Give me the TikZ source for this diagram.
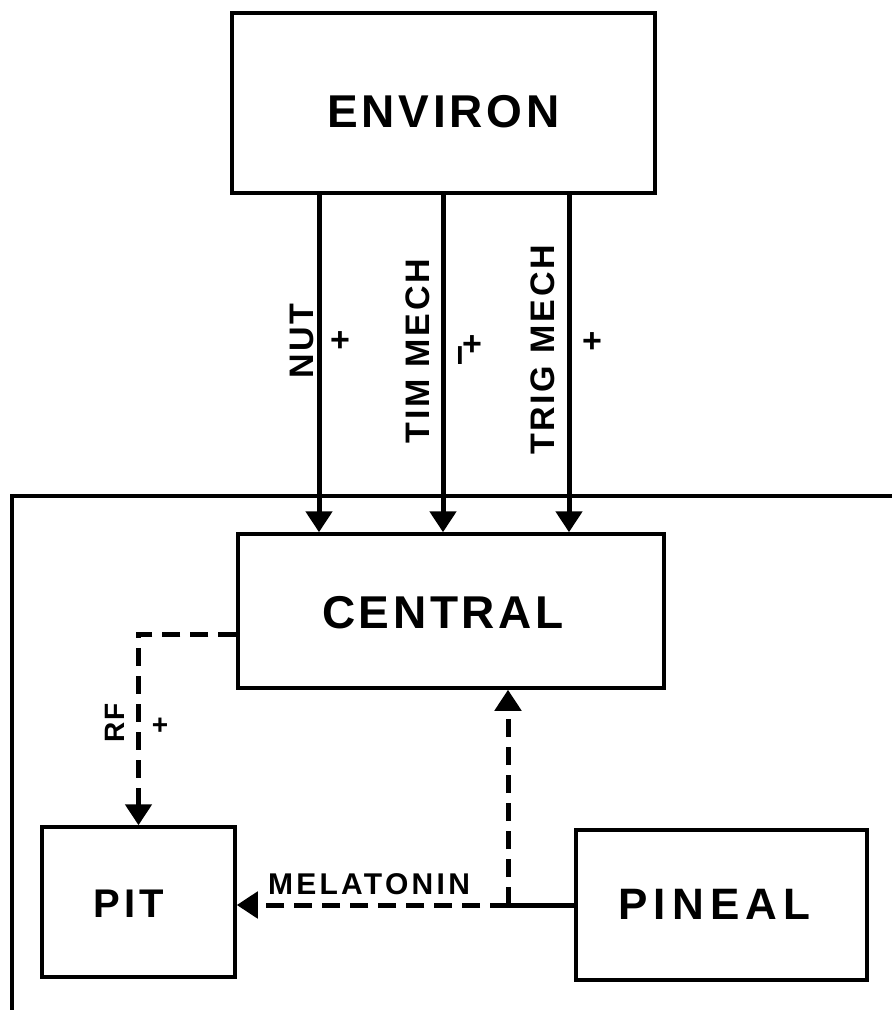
\documentclass[tikz,border=0pt]{standalone}
\usepackage{fontspec}
\setmainfont{Liberation Sans}
\newfontfamily\bigsp[LetterSpace=8]{Liberation Sans}
\newfontfamily\pinsp[LetterSpace=14]{Liberation Sans}
\newfontfamily\pitsp[LetterSpace=10]{Liberation Sans}
\newfontfamily\smsp[LetterSpace=8]{Liberation Sans}
\newfontfamily\melsp[LetterSpace=11]{Liberation Sans}
\usetikzlibrary{arrows.meta}
\begin{document}
\begin{tikzpicture}[x=1pt,y=-1pt,
  box/.style={draw, line width=3.5pt, rectangle, inner sep=0pt},
  bigtxt/.style={font=\bigsp\bfseries\fontsize{46}{50}\selectfont},
  armlbl/.style={font=\smsp\bfseries\fontsize{34}{38}\selectfont, rotate=90, inner sep=0pt},
  plustxt/.style={font=\bfseries\fontsize{34}{38}\selectfont, inner sep=0pt},
  flow/.style={line width=5pt, -{Triangle[length=21pt,width=26pt]}},
  dflow/.style={flow, dash pattern=on 18pt off 10pt}
]
\useasboundingbox (0,0) rectangle (892,1010);
\fill[white] (0,0) rectangle (892,1010);

% outer frame
\draw[line width=4pt] (892,496) -- (12,496) -- (12,1010);

% boxes
\node[box, bigtxt, minimum width=423pt, minimum height=180pt] (env) at (443.5,103)
  {\raisebox{-8pt}[\height][0pt]{ENVIRON}};
\node[box, bigtxt, minimum width=426pt, minimum height=154pt] (central) at (451,611)
  {\kern-16pt\raisebox{-1.5pt}[\height][0pt]{CENTRAL}};
\node[box, font=\pitsp\bfseries\fontsize{40}{44}\selectfont, minimum width=193pt, minimum height=150pt] (pit) at (138.5,902)
  {\kern-20pt\raisebox{-2pt}[\height][0pt]{PIT}};
\node[box, font=\pinsp\bfseries\fontsize{44}{48}\selectfont, minimum width=291pt, minimum height=150pt] (pineal) at (721.5,905)
  {\kern-14pt\raisebox{1pt}[\height][0pt]{PINEAL}};

% arrow columns
\coordinate (xn) at (319,0);
\coordinate (xt) at (443,0);
\coordinate (xg) at (569,0);
\draw[flow] (env.south -| xn) -- (central.north -| xn);
\draw[flow] (env.south -| xt) -- (central.north -| xt);
\draw[flow] (env.south -| xg) -- (central.north -| xg);

\node[armlbl] (nut) at (302,341) {NUT};
\node[plustxt] (p1) at (340,342) {+};
\node[armlbl] (tim) at (418,351) {TIM MECH};
\node[font=\bfseries\fontsize{26}{26}\selectfont, inner sep=0pt] (p2i) at (460,356) {I};
\node[plustxt] (p2) at (472,346) {+};
\node[armlbl] (trig) at (543,350) {TRIG MECH};
\node[plustxt] (p3) at (592,343) {+};

% RF
\coordinate (rfa) at ([yshift=-23pt]central.west);
\draw[dflow] (rfa) -| (pit.north);
\node[armlbl, font=\smsp\bfseries\fontsize{28}{32}\selectfont] (rf) at (115,723) {RF};
\node[plustxt, font=\bfseries\fontsize{28}{32}\selectfont] (p4) at (160,726) {+};

% melatonin
\coordinate (jx) at (508,0);
\draw[line width=5pt] (pineal.west) -- (pineal.west -| jx) coordinate (j);
\draw[dflow] (j) -- (j -| pit.east);
\draw[dflow] (j) -- (j |- central.south);
\node[font=\melsp\bfseries\fontsize{30}{34}\selectfont, inner sep=0pt] (mel) at (369,884) {MELATONIN};
\end{tikzpicture}
\end{document}
